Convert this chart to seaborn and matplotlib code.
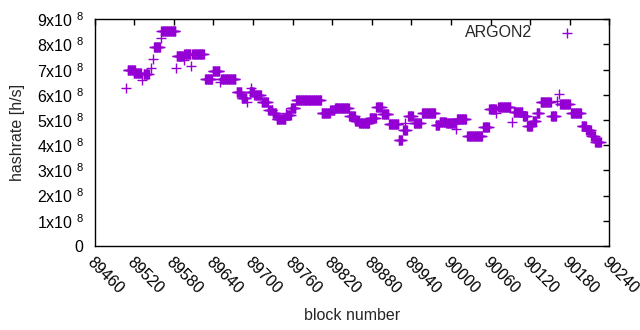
import numpy as np
import pandas as pd
import matplotlib
matplotlib.use('Agg')
import matplotlib.pyplot as plt
import seaborn as sns
from matplotlib.ticker import FuncFormatter, MultipleLocator

# runs of blocks with the same hashrate (value in units of 1e8 h/s)
run_start = [89510, 89519, 89534, 89550, 89561, 89584, 89596, 89608, 89627, 89639,
             89652, 89675, 89683, 89695, 89702, 89713, 89723, 89730, 89736, 89751,
             89758, 89765, 89804, 89817, 89824, 89846, 89855, 89861, 89877, 89887,
             89896, 89906, 89921, 89928, 89935, 89944, 89956, 89977, 89983, 89993,
             90009, 90025, 90049, 90058, 90072, 90095, 90109, 90116, 90124, 90130,
             90136, 90152, 90166, 90182, 90198, 90205, 90213, 90219]
run_end = [89521, 89530, 89542, 89559, 89582, 89594, 89605, 89625, 89638, 89649,
           89673, 89682, 89690, 89701, 89712, 89722, 89729, 89735, 89749, 89757,
           89764, 89803, 89816, 89823, 89845, 89854, 89860, 89876, 89886, 89895,
           89905, 89920, 89926, 89933, 89942, 89954, 89976, 89982, 89992, 90007,
           90023, 90047, 90057, 90068, 90090, 90108, 90115, 90123, 90129, 90134,
           90151, 90159, 90180, 90197, 90204, 90212, 90218, 90227]
run_value = [7.00, 6.86, 6.81, 7.91, 8.52, 7.53, 7.61, 7.61, 6.65, 6.93,
             6.65, 6.10, 5.86, 6.10, 5.99, 5.70, 5.41, 5.27, 5.03, 5.20,
             5.46, 5.81, 5.27, 5.40, 5.49, 5.17, 4.96, 4.87, 5.09, 5.53,
             5.23, 4.83, 4.22, 4.62, 5.17, 4.89, 5.27, 4.81, 4.93, 4.88,
             5.03, 4.35, 4.73, 5.42, 5.50, 5.33, 5.16, 4.77, 4.95, 5.27,
             5.73, 5.16, 5.65, 5.27, 4.75, 4.62, 4.37, 4.12]

# single outlying blocks
single_block = [89507, 89532, 89545, 89548, 89560, 89583, 89595, 89606, 89650, 89691,
                89697, 89750, 89930, 90008, 90069, 90092, 90160, 90164]
single_value = [6.26, 6.61, 7.05, 7.41, 8.24, 7.05, 7.38, 7.14, 6.52, 5.73,
                6.26, 5.27, 4.87, 4.63, 5.27, 4.93, 5.77, 6.03]

blocks = []
values = []
for s, e, v in zip(run_start, run_end, run_value):
    for b in range(s, e + 1):
        blocks.append(b)
        values.append(v * 1e8)
for b, v in zip(single_block, single_value):
    blocks.append(b)
    values.append(v * 1e8)

df = pd.DataFrame({'block': blocks, 'hashrate': values})

sns.set_style('white')
plt.rcParams['font.family'] = ['Liberation Sans', 'DejaVu Sans']
plt.rcParams['mathtext.default'] = 'regular'

fig = plt.figure(figsize=(6.4, 3.3), dpi=100)
ax = fig.add_axes([0.148, 0.2545, 0.804, 0.687])

sns.scatterplot(data=df, x='block', y='hashrate', marker='+', color='#9400d3',
                s=48, linewidth=1.0, label='ARGON2', ax=ax)

ax.set_xlim(89460, 90240)
ax.set_ylim(0, 9e8)
ax.xaxis.set_major_locator(MultipleLocator(60))
ax.yaxis.set_major_locator(MultipleLocator(1e8))

def yfmt(v, pos):
    n = int(round(v / 1e8))
    if n == 0:
        return '0'
    return '%dx10 $^{8}$' % n

ax.yaxis.set_major_formatter(FuncFormatter(yfmt))
ax.xaxis.set_major_formatter(FuncFormatter(lambda v, p: '%d' % v))

ax.tick_params(direction='in', length=4, width=1, top=True, right=True,
               labelsize=11.5, colors='black')
ax.tick_params(axis='y', pad=8)
ax.tick_params(axis='x', pad=6)
for lab in ax.get_xticklabels():
    lab.set_rotation(-45)
    lab.set_ha('left')
    lab.set_va('top')
    lab.set_rotation_mode('anchor')

for sp in ax.spines.values():
    sp.set_color('black')
    sp.set_linewidth(1)

ax.set_xlabel('block number', fontsize=11.5, labelpad=8)
ax.set_ylabel('hashrate [h/s]', fontsize=11.5, labelpad=8)

ax.legend(loc='upper right', bbox_to_anchor=(0.961, 1.003), borderaxespad=0,
          frameon=False, markerfirst=False, fontsize=11.5, handletextpad=1.2)

fig.savefig('out.png', dpi=100)
